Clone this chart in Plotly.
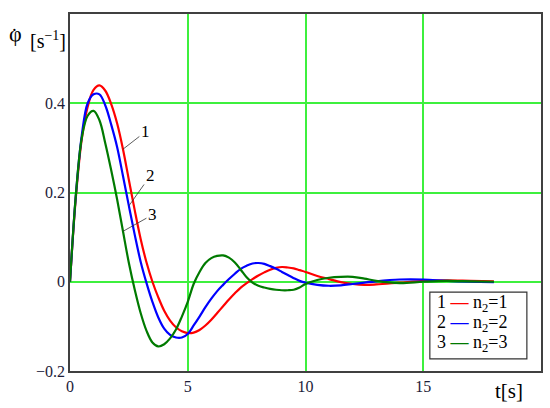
import plotly.graph_objects as go

# time points [s]
t = [0, 0.25, 0.5, 0.75, 1.0, 1.25, 1.5, 1.75, 2.0, 2.25, 2.5, 2.75, 3.0, 3.25,
     3.5, 3.75, 4.0, 4.25, 4.5, 4.75, 5.0, 5.25, 5.5, 5.75, 6.0, 6.25, 6.5, 6.75,
     7.0, 7.25, 7.5, 7.75, 8.0, 8.25, 8.5, 8.75, 9.0, 9.25, 9.5, 9.75, 10.0,
     10.5, 11.0, 11.5, 12.0, 12.5, 13, 14, 15, 16, 17, 18]

# angular velocity for n2 = 1, 2, 3
phi_n1 = [0, 0.19, 0.32, 0.392, 0.43, 0.44, 0.428, 0.398, 0.355, 0.297, 0.228, 0.16,
          0.096, 0.043, 0.0, -0.035, -0.065, -0.087, -0.102, -0.111, -0.115, -0.114,
          -0.108, -0.098, -0.085, -0.07, -0.055, -0.04, -0.026, -0.013, -0.003, 0.006,
          0.014, 0.021, 0.027, 0.031, 0.033, 0.032, 0.03, 0.026, 0.022,
          0.013, 0.006, -0.001, -0.005, -0.007, -0.006, -0.002, 0.002, 0.003, 0.002, 0.001]
phi_n2 = [0, 0.195, 0.328, 0.40, 0.42, 0.42, 0.395, 0.352, 0.302, 0.237, 0.17, 0.105,
          0.045, -0.003, -0.045, -0.08, -0.105, -0.119, -0.125, -0.125, -0.117, -0.098,
          -0.078, -0.057, -0.038, -0.021, -0.007, 0.006, 0.018, 0.029, 0.036, 0.041,
          0.042, 0.04, 0.035, 0.029, 0.022, 0.015, 0.008, 0.002, -0.002,
          -0.007, -0.009, -0.008, -0.005, -0.002, 0.001, 0.005, 0.005, 0.002, 0.0, -0.001]
phi_n3 = [0, 0.195, 0.322, 0.372, 0.383, 0.362, 0.31, 0.25, 0.185, 0.113, 0.042, -0.018,
          -0.07, -0.11, -0.136, -0.145, -0.14, -0.127, -0.107, -0.078, -0.045, -0.005,
          0.022, 0.042, 0.053, 0.058, 0.059, 0.054, 0.043, 0.027, 0.01, -0.002,
          -0.009, -0.013, -0.016, -0.018, -0.019, -0.019, -0.018, -0.013, -0.005,
          0.004, 0.009, 0.011, 0.011, 0.007, 0.002, -0.003, 0.0, 0.002, 0.001, 0.0]

series = [("1", "n<sub>2</sub>=1", phi_n1, "#ff0000"),
          ("2", "n<sub>2</sub>=2", phi_n2, "#0000ff"),
          ("3", "n<sub>2</sub>=3", phi_n3, "#007a00")]

# curve labels: (index on curve, label position)
label_at = [(9, 3.2, 0.336), (10, 3.4, 0.237), (9, 3.5, 0.15)]

serif = "Liberation Serif"
txt = "#1c1c38"
grid = "#3ef03e"

fig = go.Figure()
for num, name, vals, col in series:
    fig.add_trace(go.Scatter(x=t, y=vals, mode="lines", name=name,
                             line=dict(color=col, width=2.2, shape="spline", smoothing=1.0),
                             showlegend=False))

for (num, name, vals, col), (i, lx, ly) in zip(series, label_at):
    fig.add_annotation(x=t[i], y=vals[i], ax=lx, ay=ly, axref="x", ayref="y",
                       text=num, showarrow=True, arrowhead=0, arrowwidth=0.8,
                       arrowcolor="#333", standoff=0, startstandoff=0,
                       font=dict(family=serif, size=17, color="black"))

# legend box drawn by hand (number - line - label)
fig.add_shape(type="rect", xref="paper", yref="paper", x0=0.764, x1=0.970,
              y0=0.034, y1=0.221, line=dict(color="#333", width=1.2),
              fillcolor="white", layer="above")
for k, (num, name, vals, col) in enumerate(series):
    fig.add_annotation(xref="paper", yref="paper", x=0.776, y=0.190 - k * 0.056,
                       xanchor="left", yanchor="middle", showarrow=False,
                       text=f"{num} <span style='color:{col}'><b>—</b></span> {name}",
                       font=dict(family=serif, size=18, color="black"))

# axis titles
fig.add_annotation(xref="paper", yref="paper", x=-0.134, y=0.986, xanchor="left",
                   showarrow=False,
                   text="φ", font=dict(family=serif, size=22, color="black"))
fig.add_annotation(xref="paper", yref="paper", x=-0.130, y=0.976, showarrow=False,
                   text="˙", font=dict(family=serif, size=20, color="black"))
fig.add_annotation(xref="paper", yref="paper", x=-0.004, y=0.966, xanchor="right",
                   showarrow=False,
                   text="[s<sup>−1</sup>]", font=dict(family=serif, size=20, color="black"))
fig.add_annotation(xref="paper", yref="paper", x=0.967, y=-0.056, showarrow=False,
                   yanchor="middle",
                   text="t[s]", font=dict(family=serif, size=21, color="black"))

fig.update_xaxes(range=[0, 20], tickvals=[0, 5, 10, 15], automargin=False,
                 showgrid=True, gridcolor=grid, gridwidth=2, zeroline=False,
                 showline=True, mirror=True, linecolor="#404040", linewidth=1.5,
                 ticks="", tickfont=dict(family=serif, size=16, color=txt))
fig.update_yaxes(range=[-0.2, 0.6], tickvals=[-0.2, 0, 0.2, 0.4],
                 ticktext=["−0.2", "0", "0.2", "0.4"], automargin=False,
                 showgrid=True, gridcolor=grid, gridwidth=2, zeroline=False,
                 showline=True, mirror=True, linecolor="#404040", linewidth=1.5,
                 ticks="", tickfont=dict(family=serif, size=16, color=txt))

fig.update_layout(width=550, height=408, margin=dict(l=70, r=9, t=14, b=37),
                  plot_bgcolor="white", paper_bgcolor="white")

fig.write_html("out.html", config={"displayModeBar": False},
               post_script="document.body.style.margin='0';")
